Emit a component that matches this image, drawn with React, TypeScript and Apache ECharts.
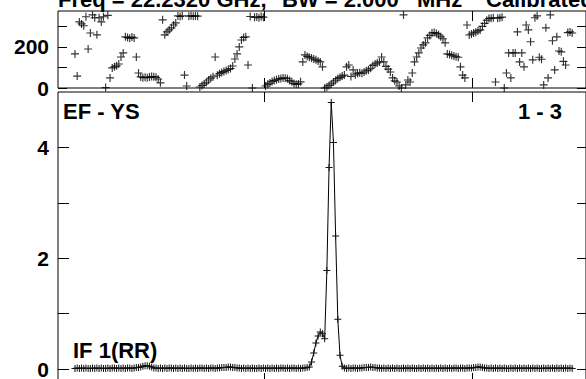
import React, { useEffect, useRef } from 'react';
import * as echarts from 'echarts';

// Velocity of the first plotted channel and channel width (km/s)
const CHANNEL_START_VEL = -9.087;
const CHANNEL_WIDTH = 0.1053;

// Phase (degrees) per channel, top panel
const PHASE_DEG = [
  166, 58, 322, 312, 303, 347, 190, 268, 356, 342,
  259, 342, 322, 347, 2, 354, 49, 98, 103, 108,
  117, 151, 171, 249, 246, 242, 248, 244, 151, 73,
  54, 50, 52, 50, 53, 56, 55, 52, 44, 25,
  332, 259, 273, 283, 293, 307, 317, 351, 348, 352,
  63, 10, 350, 352, 349, 351, 350, 5, 12, 20,
  28, 39, 48, 55, 151, 62, 70, 76, 80, 85,
  90, 95, 107, 141, 166, 200, 234, 246, 249, 112,
  348, 0, 344, 346, 342, 348, 345, 10, 18, 24,
  32, 36, 40, 44, 46, 49, 48, 45, 36, 30,
  22, 18, 20, 30, 127, 161, 154, 150, 146, 141,
  137, 132, 127, 103, 0, 5, 12, 20, 29, 38,
  46, 52, 58, 63, 103, 112, 56, 88, 64, 72,
  74, 72, 78, 84, 88, 96, 110, 117, 122, 127,
  151, 127, 105, 92, 78, 49, 35, 29, 10, 0,
  356, 15, 39, 29, 73, 127, 151, 171, 195, 210,
  220, 244, 256, 268, 270, 266, 259, 249, 240, 220,
  166, 163, 160, 156, 152, 150, 103, 63, 49, 307,
  258, 263, 268, 272, 278, 283, 300, 315, 330, 338,
  340, 342, 29, 340, 342, 345, 0, 73, 171, 49,
  171, 171, 273, 127, 171, 103, 307, 283, 225, 137,
  342, 351, 150, 140, 15, 293, 49, 356, 230, 88,
  249, 180, 176, 130, 112, 270, 273, 268,
];

// Amplitude per channel, bottom panel
const AMPLITUDE = [
  0.01, 0.02, 0.01, 0.02, 0.01, 0.02, 0.01, 0.01, 0.02, 0.01,
  0.02, 0.01, 0.02, 0.01, 0.01, 0.02, 0.01, 0.02, 0.02, 0.01,
  0.02, 0.01, 0.02, 0.01, 0.02, 0.02, 0.01, 0.02, 0.03, 0.03,
  0.04, 0.05, 0.06, 0.06, 0.05, 0.04, 0.02, 0.02, 0.01, 0.02,
  0.01, 0.02, 0.01, 0.02, 0.02, 0.01, 0.02, 0.01, 0.02, 0.01,
  0.02, 0.01, 0.01, 0.02, 0.01, 0.02, 0.01, 0.02, 0.02, 0.01,
  0.02, 0.01, 0.02, 0.02, 0.01, 0.02, 0.02, 0.03, 0.03, 0.03,
  0.04, 0.04, 0.03, 0.03, 0.02, 0.02, 0.01, 0.02, 0.01, 0.02,
  0.01, 0.02, 0.01, 0.01, 0.02, 0.01, 0.02, 0.01, 0.02, 0.01,
  0.02, 0.01, 0.02, 0.01, 0.02, 0.02, 0.01, 0.02, 0.01, 0.02,
  0.02, 0.01, 0.02, 0.01, 0.02, 0.02, 0.03, 0.04, 0.13, 0.29,
  0.47, 0.60, 0.67, 0.64, 0.55, 1.78, 3.64, 4.81, 4.09, 2.40,
  0.90, 0.25, 0.05, 0.02, 0.01, 0.02, 0.01, 0.02, 0.02, 0.01,
  0.02, 0.02, 0.03, 0.03, 0.03, 0.04, 0.03, 0.03, 0.02, 0.02,
  0.01, 0.02, 0.01, 0.02, 0.01, 0.02, 0.01, 0.02, 0.01, 0.01,
  0.02, 0.01, 0.02, 0.01, 0.02, 0.01, 0.01, 0.02, 0.01, 0.02,
  0.01, 0.02, 0.01, 0.02, 0.01, 0.02, 0.01, 0.02, 0.01, 0.02,
  0.01, 0.02, 0.01, 0.02, 0.02, 0.01, 0.02, 0.02, 0.01, 0.02,
  0.02, 0.02, 0.03, 0.03, 0.04, 0.04, 0.03, 0.02, 0.02, 0.01,
  0.02, 0.01, 0.02, 0.01, 0.02, 0.01, 0.02, 0.01, 0.01, 0.02,
  0.01, 0.02, 0.01, 0.02, 0.01, 0.02, 0.01, 0.02, 0.01, 0.02,
  0.01, 0.02, 0.01, 0.01, 0.02, 0.01, 0.02, 0.01, 0.02, 0.01,
  0.02, 0.01, 0.02, 0.01, 0.02, 0.01, 0.02, 0.01,
];

const VEL_TICKS = [0, 10];
const PHASE_TICKS = [0, 100, 200, 300];
const PHASE_LABELS = [0, 200];
const AMP_TICKS = [0, 1, 2, 3, 4];
const AMP_LABELS = [0, 2, 4];

const TITLE_PARTS = ['Freq = 22.2320 GHz,', 'BW = 2.000', 'MHz', 'Calibrated'];
const PANEL_LEFT_LABEL = 'EF - YS';
const PANEL_RIGHT_LABEL = '1 - 3';
const IF_LABEL = 'IF 1(RR)';

const FONT_FAMILY = '"Liberation Sans", Arial, sans-serif';
const BOLD_FONT = `bold 22px ${FONT_FAMILY}`;

export default function App() {
  const ref = useRef<HTMLDivElement>(null);

  useEffect(() => {
    if (!ref.current) return;
    const chart = echarts.init(ref.current, null, { renderer: 'svg' });

    const vel = PHASE_DEG.map((_, i) => CHANNEL_START_VEL + i * CHANNEL_WIDTH);
    const phaseData = PHASE_DEG.map((p, i) => [vel[i], p]);
    const ampData = AMPLITUDE.map((a, i) => [vel[i], a]);

    const plus = 'path://M3,0h1v7h-1zM0,3h7v1h-7z';
    const xMin = -9.904;
    const xMax = 15.481;

    const xAxis = (gridIndex: number, position: string) => ({
      type: 'value',
      gridIndex,
      position,
      min: xMin,
      max: xMax,
      axisLine: { show: false, onZero: false },
      splitLine: { show: false },
      axisLabel: { show: false },
      axisTick: {
        show: true,
        inside: true,
        length: 10,
        customValues: VEL_TICKS,
        lineStyle: { color: '#000', width: 1 },
      },
    });

    const yAxis = (
      gridIndex: number,
      position: string,
      min: number,
      max: number,
      ticks: number[],
      labels: number[] | null,
      tickLen: number
    ) => ({
      type: 'value',
      gridIndex,
      position,
      min,
      max,
      axisLine: { show: false, onZero: false },
      splitLine: { show: false },
      axisTick: {
        show: true,
        inside: true,
        length: tickLen,
        customValues: ticks,
        lineStyle: { color: '#000', width: 1 },
      },
      axisLabel: labels
        ? {
            show: true,
            customValues: labels,
            margin: 9,
            color: '#000',
            fontFamily: FONT_FAMILY,
            fontWeight: 'bold',
            fontSize: 21,
          }
        : { show: false },
    });

    const texts: any[] = [];
    const titleX = [58, 282, 417, 486];
    TITLE_PARTS.forEach((t, k) => {
      texts.push({
        type: 'text',
        x: titleX[k],
        y: -0.5,
        style: { text: t, font: BOLD_FONT, fill: '#000', align: 'left', verticalAlign: 'middle' },
      });
    });
    texts.push({
      type: 'text',
      x: 63,
      y: 111,
      style: { text: PANEL_LEFT_LABEL, font: BOLD_FONT, fill: '#000', align: 'left', verticalAlign: 'middle' },
    });
    texts.push({
      type: 'text',
      x: 562,
      y: 111,
      style: { text: PANEL_RIGHT_LABEL, font: BOLD_FONT, fill: '#000', align: 'right', verticalAlign: 'middle' },
    });
    texts.push({
      type: 'text',
      x: 73,
      y: 350,
      style: { text: IF_LABEL, font: BOLD_FONT, fill: '#000', align: 'left', verticalAlign: 'middle' },
    });

    chart.setOption({
      animation: false,
      backgroundColor: '#fff',
      grid: [
        {
          left: 58, top: 11, width: 528, height: 77,
          show: true, borderColor: '#000', borderWidth: 1, backgroundColor: 'transparent',
          containLabel: false, outerBoundsMode: 'none',
        },
        {
          left: 58, top: 92, width: 528, height: 291,
          show: true, borderColor: '#000', borderWidth: 1, backgroundColor: 'transparent',
          containLabel: false, outerBoundsMode: 'none',
        },
      ],
      xAxis: [xAxis(0, 'bottom'), xAxis(0, 'top'), xAxis(1, 'bottom'), xAxis(1, 'top')],
      yAxis: [
        yAxis(0, 'left', 0, 375, PHASE_TICKS, PHASE_LABELS, 9),
        yAxis(0, 'right', 0, 375, PHASE_TICKS, null, 9),
        yAxis(1, 'left', -0.25, 5, AMP_TICKS, AMP_LABELS, 11),
        yAxis(1, 'right', -0.25, 5, AMP_TICKS, null, 9),
      ],
      series: [
        {
          type: 'scatter',
          xAxisIndex: 0,
          yAxisIndex: 0,
          data: phaseData,
          symbol: plus,
          symbolSize: 8,
          clip: false,
          itemStyle: { color: '#000' },
        },
        {
          type: 'line',
          xAxisIndex: 2,
          yAxisIndex: 2,
          data: ampData,
          symbol: plus,
          symbolSize: 7,
          showSymbol: true,
          showAllSymbol: true,
          clip: false,
          lineStyle: { color: '#000', width: 1 },
          itemStyle: { color: '#111' },
        },
      ],
      graphic: texts,
    });

    return () => chart.dispose();
  }, []);

  return (
    <div
      ref={ref}
      style={{ position: 'fixed', left: 0, top: 0, width: 586, height: 379, background: '#fff' }}
    />
  );
}
